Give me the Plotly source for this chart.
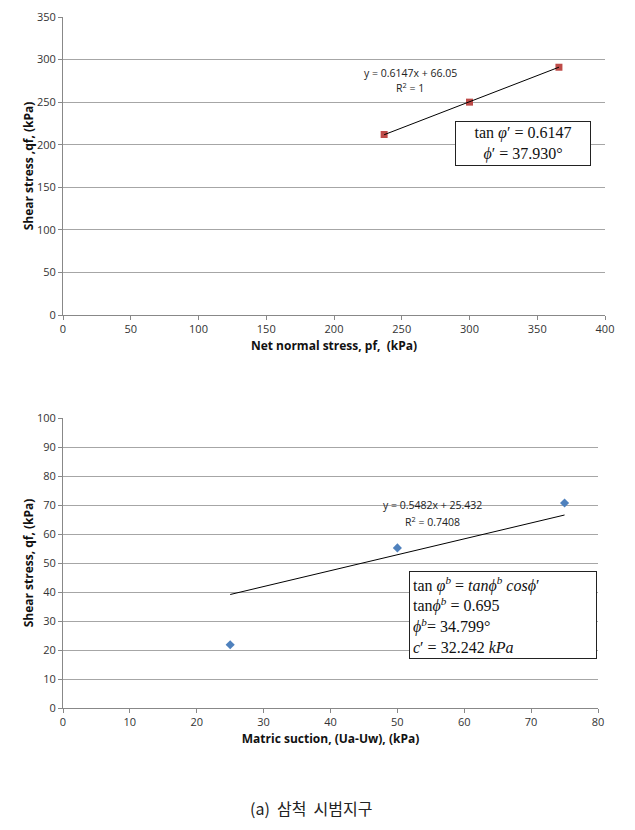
import numpy as np
import plotly.graph_objects as go

# top chart: net normal stress vs shear stress
net_normal = [237, 300, 366]
shear_top = [212, 250, 291]
top_slope, top_intercept = 0.6147, 66.05

# bottom chart: matric suction vs shear stress
suction = [25, 50, 75]
shear_bottom = [21.8, 55.2, 70.7]
bot_slope, bot_intercept = 0.5482, 25.432

W, H = 635, 830
OFF = 8  # page body margin


def px(x):
    return (x - OFF) / W


def py(y):
    return 1 - (y - OFF) / H


fig = go.Figure()

fig.add_trace(go.Scatter(
    x=net_normal, y=shear_top, mode="markers",
    marker=dict(symbol="square", size=7, color="#be4b48"),
    xaxis="x", yaxis="y", showlegend=False
))
xt = np.array([min(net_normal), max(net_normal)])
fig.add_trace(go.Scatter(
    x=xt, y=top_slope * xt + top_intercept, mode="lines",
    line=dict(color="black", width=1),
    xaxis="x", yaxis="y", showlegend=False
))

fig.add_trace(go.Scatter(
    x=suction, y=shear_bottom, mode="markers",
    marker=dict(symbol="diamond", size=7, color="#4f81bd"),
    xaxis="x2", yaxis="y2", showlegend=False
))
xb = np.array([min(suction), max(suction)])
fig.add_trace(go.Scatter(
    x=xb, y=bot_slope * xb + bot_intercept, mode="lines",
    line=dict(color="black", width=1),
    xaxis="x2", yaxis="y2", showlegend=False
))

tickfont = dict(family="Open Sans, Noto Sans, sans-serif", size=11, color="#333")
titlefont = dict(family="Open Sans, Noto Sans, sans-serif", size=12, color="#111")
common_x = dict(showgrid=False, showline=True, linecolor="#888", ticks="outside",
                ticklen=4, tickcolor="#888", tickfont=tickfont, zeroline=False,
                automargin=False)
common_y = dict(showgrid=True, gridcolor="#a6a6a6", gridwidth=1, showline=True,
                linecolor="#888", ticks="outside", ticklen=4, tickcolor="#888",
                tickfont=tickfont, zeroline=False, automargin=False)

fig.update_layout(
    width=W, height=H,
    margin=dict(l=0, r=0, t=0, b=0),
    paper_bgcolor="white", plot_bgcolor="white",
    xaxis=dict(common_x, domain=[px(63), px(605)], range=[0, 400], dtick=50,
               anchor="y", title=dict(text="<b>Net normal stress, pf,  (kPa)</b>",
                                      font=titlefont, standoff=6)),
    yaxis=dict(common_y, domain=[py(315), py(17)], range=[0, 350], dtick=50,
               anchor="x", title=dict(text="<b>Shear stress ,qf, (kPa)</b>",
                                      font=titlefont, standoff=0)),
    xaxis2=dict(common_x, domain=[px(63), px(598)], range=[0, 80], dtick=10,
                anchor="y2", title=dict(text="<b>Matric suction, (Ua-Uw), (kPa)</b>",
                                        font=titlefont, standoff=6)),
    yaxis2=dict(common_y, domain=[py(708), py(418)], range=[0, 100], dtick=10,
                anchor="x2", title=dict(text="<b>Shear stress, qf, (kPa)</b>",
                                        font=titlefont, standoff=0)),
)

eqfont = dict(family="Open Sans, Noto Sans, sans-serif", size=10.5, color="#222")
serif = dict(family="Liberation Serif, DejaVu Serif, serif", size=16, color="#111")

annotations = [
    dict(x=px(410), y=py(73), text="y = 0.6147x + 66.05", font=eqfont),
    dict(x=px(410), y=py(88), text="R<sup>2</sup> = 1", font=eqfont),
    dict(x=px(523), y=py(143), text="tan <i>φ</i>′ = 0.6147<br><i>ϕ</i>′ = 37.930°",
         font=serif, bordercolor="#222", borderwidth=1, borderpad=2,
         bgcolor="white", width=130, align="center"),
    dict(x=px(432), y=py(505), text="y = 0.5482x + 25.432", font=eqfont),
    dict(x=px(432), y=py(521), text="R<sup>2</sup> = 0.7408", font=eqfont),
    dict(x=px(503), y=py(615),
         text="tan <i>φ<sup>b</sup></i> = <i>tanϕ<sup>b</sup> cosϕ</i>′<br>"
              "tan<i>ϕ<sup>b</sup></i> = 0.695<br>"
              "<i>ϕ<sup>b</sup></i>= 34.799°<br>"
              "<i>c</i>′ = 32.242 <i>kPa</i>",
         font=serif, bordercolor="#222", borderwidth=1, borderpad=3,
         bgcolor="white", width=180, height=80, align="left"),
    dict(x=px(311), y=py(808), text="(a)  삼척  시범지구",
         font=dict(family="Noto Sans CJK KR, sans-serif", size=16, color="#222")),
]
for a in annotations:
    a.update(xref="paper", yref="paper", showarrow=False,
             xanchor="center", yanchor="middle")
    fig.add_annotation(**a)

fig.write_html("out.html")
